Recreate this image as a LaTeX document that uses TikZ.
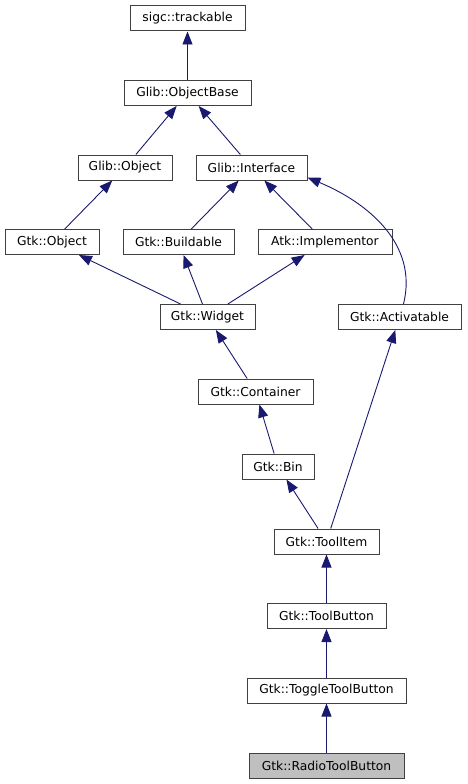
\documentclass[tikz,border=0pt]{standalone}
\usepackage{fontspec}
\setmainfont{DejaVu Sans}
\usetikzlibrary{arrows.meta}
\definecolor{edgeblue}{RGB}{25,25,112}
\definecolor{boxline}{RGB}{64,64,64}
\definecolor{boxgray}{RGB}{191,191,191}
\tikzset{
    cls/.style={draw=boxline, line width=1pt, fill=white, minimum height=25pt, inner sep=0pt, font=\fontsize{12.3}{14}\selectfont},
    inh/.style={draw=edgeblue, line width=0.9pt, -{Triangle[length=13pt,width=10pt,fill=edgeblue]}}
}
\begin{document}
\begin{tikzpicture}[x=1pt,y=-1pt]
    \useasboundingbox (0,0) rectangle (467,784);
    \node[cls, minimum width=115pt] (trk) at (187.5,18.5) {sigc::trackable};
    \node[cls, minimum width=127pt] (obase) at (187.5,93) {Glib::ObjectBase};
    \node[cls, minimum width=94pt] (gobj) at (125,167.5) {Glib::Object};
    \node[cls, minimum width=111pt] (iface) at (251.5,167.5) {Glib::Interface};
    \node[cls, minimum width=94pt] (gtkobj) at (52,242) {Gtk::Object};
    \node[cls, minimum width=111pt] (build) at (178.5,242) {Gtk::Buildable};
    \node[cls, minimum width=134pt] (impl) at (325,242) {Atk::Implementor};
    \node[cls, minimum width=95pt] (widget) at (207.5,317) {Gtk::Widget};
    \node[cls, minimum width=123pt] (activ) at (399.5,317) {Gtk::Activatable};
    \node[cls, minimum width=115pt] (cont) at (255.5,391.5) {Gtk::Container};
    \node[cls, minimum width=72pt] (bin) at (278,466.5) {Gtk::Bin};
    \node[cls, minimum width=105pt] (titem) at (326.5,541.5) {Gtk::ToolItem};
    \node[cls, minimum width=119pt] (tbutton) at (326.5,616) {Gtk::ToolButton};
    \node[cls, minimum width=159pt] (toggle) at (326.5,690.5) {Gtk::ToggleToolButton};
    \node[cls, minimum width=155pt, fill=boxgray] (radio) at (326.5,765.5) {Gtk::RadioToolButton};
    \foreach \a/\b in {obase/trk, gobj/obase, iface/obase, gtkobj/gobj, build/iface, impl/iface,
        widget/gtkobj, widget/build, widget/impl, cont/widget, bin/cont, titem/bin, titem/activ,
        tbutton/titem, toggle/tbutton, radio/toggle}
        \draw[inh] (\a) -- (\b);
    \draw[inh] ([xshift=4pt]activ.north) .. controls +(15,-60) and +(60,25) .. ([yshift=3pt]iface.south east);
\end{tikzpicture}
\end{document}
